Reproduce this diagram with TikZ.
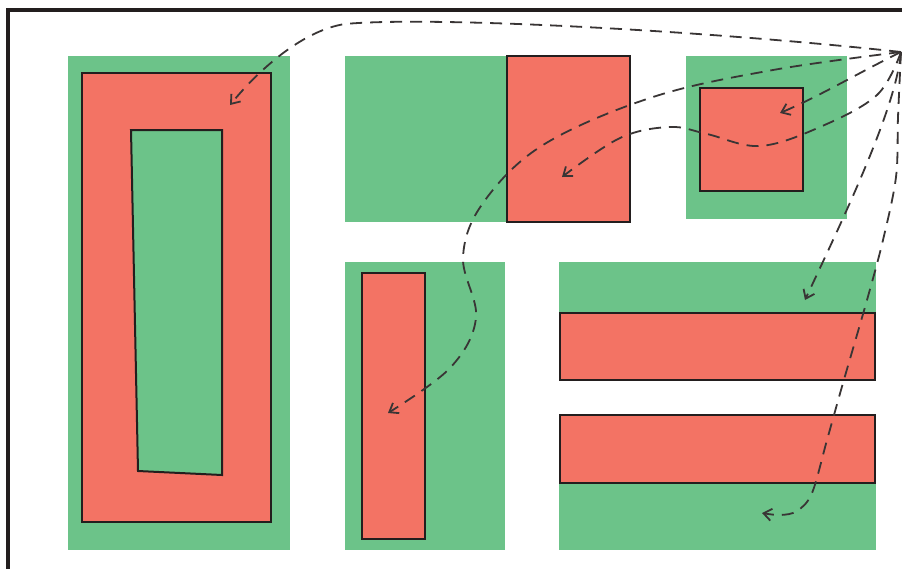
\documentclass[tikz,border=0pt]{standalone}
\usetikzlibrary{arrows.meta}
\definecolor{gfill}{RGB}{108,195,137}
\definecolor{rfill}{RGB}{243,115,100}
\definecolor{ink}{RGB}{35,30,30}
\tikzset{
  greenbox/.style={fill=gfill, draw=none},
  redbox/.style={fill=rfill, draw=ink, line width=2pt},
  innergreen/.style={fill=gfill, draw=ink, line width=2pt},
  frameline/.style={draw=ink, line width=3.2pt},
  dasharrow/.style={draw=ink!90, line width=1.8pt, dash pattern=on 12pt off 8pt,
    -{Straight Barb[length=8pt,width=12pt,line width=1.8pt]}}
}
\begin{document}
\begin{tikzpicture}[x=1pt,y=-1pt]
\useasboundingbox (0,0) rectangle (902,568);
\clip (0,0) rectangle (902,568);
\fill[white] (0,0) rectangle (902,568);
% frame
\draw[frameline] (8,580) -- (8,10) -- (915,10);
% big left
\fill[greenbox] (68,56) rectangle (290,550);
\draw[redbox] (82,73) rectangle (271,522);
\draw[innergreen] (131,130) -- (222,130) -- (222,475) -- (138,471) -- cycle;
% top middle
\fill[greenbox] (345,56) rectangle (507,222);
\draw[redbox] (507,56) rectangle (630,222);
% top right
\fill[greenbox] (686,56) rectangle (847,219);
\draw[redbox] (700,88) rectangle (803,191);
% bottom middle
\fill[greenbox] (345,262) rectangle (505,550);
\draw[redbox] (362,273) rectangle (425,539);
% bottom right
\fill[greenbox] (559,262) rectangle (876,313);
\fill[greenbox] (559,483) rectangle (876,550);
\draw[redbox] (560,313) rectangle (875,380);
\draw[redbox] (560,415) rectangle (875,483);
% arrows
\coordinate (O) at (901,52);
\coordinate (t1) at (230,105);
\coordinate (t2) at (388,413);
\coordinate (t3) at (780,113);
\coordinate (t4) at (562,177);
\coordinate (t5) at (805,300);
\coordinate (t6) at (762,513);
\draw[dasharrow] (O) .. controls (700,30) and (430,16) .. (345,24)
   .. controls (305,30) and (262,66) .. (t1);
\draw[dasharrow] plot[smooth, tension=0.6] coordinates {(O) (773,70) (653,97) (543,145) (483,203) (463,257) (476,318) (450,368) (t2)};
\draw[dasharrow] (O) .. controls (860,72) and (820,96) .. (t3);
\draw[dasharrow] plot[smooth, tension=0.6] coordinates {(O) (877,95) (820,127) (760,146) (707,134) (670,127) (620,138) (t4)};
\draw[dasharrow] (O) .. controls (896,110) and (840,225) .. (t5);
\draw[dasharrow] plot[smooth, tension=0.55] coordinates {(O) (898,117) (896,177) (883,240) (867,300) (843,383) (827,440) (812,493) (797,511) (780,515) (t6)};
\end{tikzpicture}
\end{document}
